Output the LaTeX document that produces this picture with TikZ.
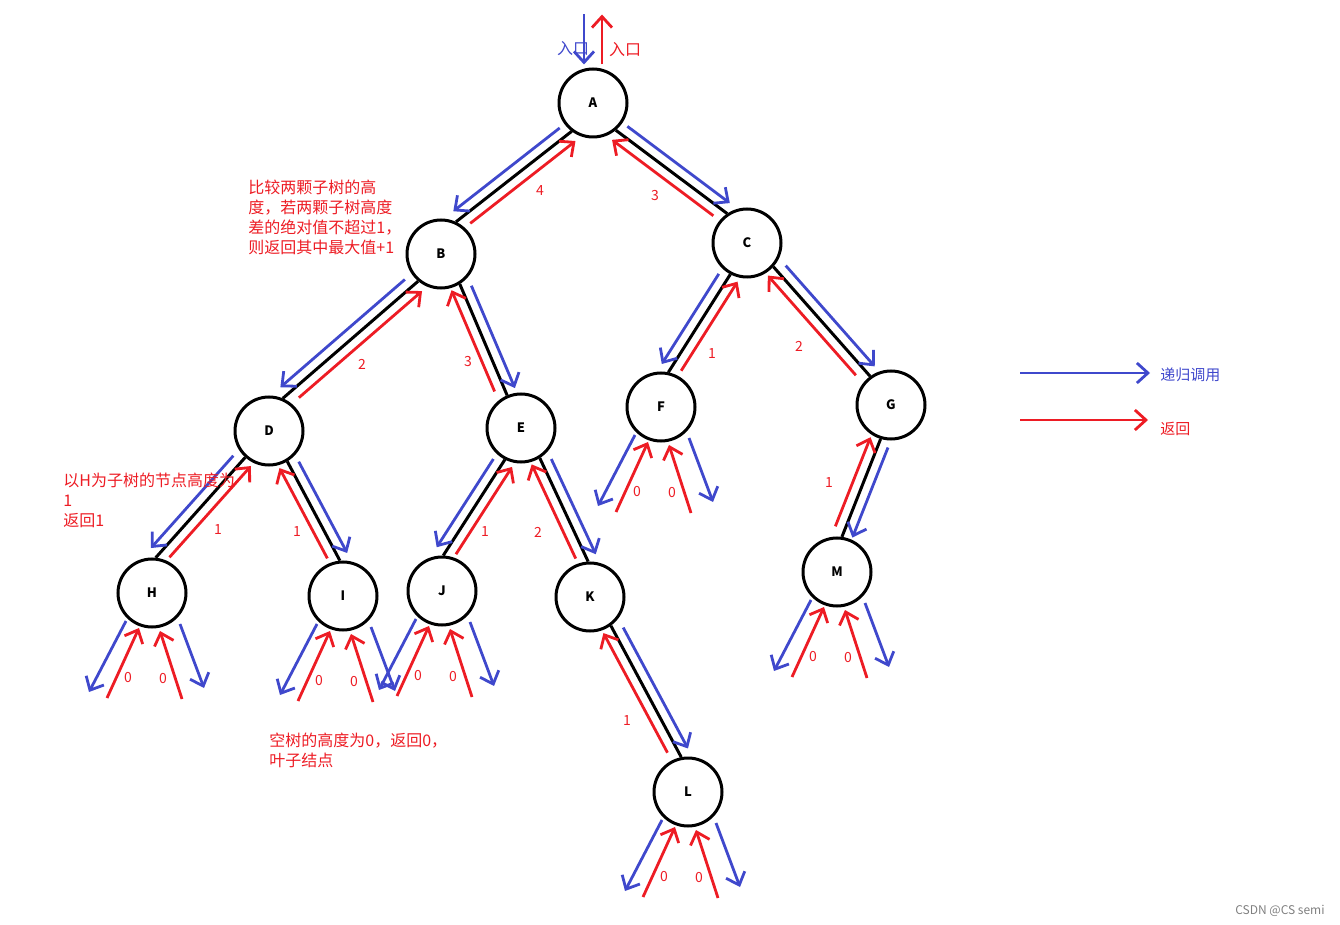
\documentclass[tikz,border=0pt]{standalone}
\usepackage{fontspec}
\usetikzlibrary{calc,arrows.meta}
\newfontfamily\cjk{Noto Sans CJK SC}
\definecolor{callblue}{RGB}{63,72,204}
\definecolor{retred}{RGB}{237,28,36}

\tikzset{
  tnode/.style={circle,draw,line width=1.5pt,minimum size=34pt,inner sep=0pt,font=\cjk\bfseries\fontsize{6.5}{7}\selectfont},
  tline/.style={line width=1.5pt},
  callarr/.style={callblue,line width=1.4pt,-{Straight Barb[length=5.5pt,width=10pt]}},
  retarr/.style={retred,line width=1.4pt,-{Straight Barb[length=5.5pt,width=10pt]}},
  num/.style={retred,font=\cjk\fontsize{7}{7}\selectfont,inner sep=0pt},
  note/.style={font=\cjk\fontsize{8}{10}\selectfont,align=left,inner sep=0pt,anchor=north west},
}

% parent, anchor, child, anchor, side of the blue arrow
\newcommand{\tedge}[5]{%
  \coordinate (#1#3p) at (#1.#2);
  \coordinate (#1#3c) at (#3.#4);
  \draw[tline] (#1#3p) -- (#1#3c);
  \draw[callarr] ($(#1#3p)!0.05!(#1#3c)!5pt!#5:(#1#3c)$) -- ($(#1#3p)!0.97!(#1#3c)!5pt!#5:(#1#3c)$);
  \draw[retarr] ($(#1#3c)!0.07!(#1#3p)!5pt!#5:(#1#3p)$) -- ($(#1#3c)!0.98!(#1#3p)!5pt!#5:(#1#3p)$);
}

% empty subtrees below a leaf
\newcommand{\nullkids}[1]{%
  \draw[callarr] ($(#1)+(-26,28)$) -- ($(#1)+(-63,99)$);
  \draw[retarr] ($(#1)+(-45,105)$) -- ($(#1)+(-13,35)$);
  \draw[retarr] ($(#1)+(30,106)$) -- ($(#1)+(8,38)$);
  \draw[callarr] ($(#1)+(28,31)$) -- ($(#1)+(52,95)$);
  \node[num] (#1z1) at ($(#1)+(-24,85)$) {0};
  \node[num] (#1z2) at ($(#1)+(11,86)$) {0};
}

\begin{document}
\begin{tikzpicture}[x=0.5pt,y=-0.5pt]
\useasboundingbox (0,0) rectangle (1340,925);

\node[tnode] (A) at (593,103) {A};
\node[tnode] (B) at (441,254) {B};
\node[tnode] (C) at (747,243) {C};
\node[tnode] (D) at (269,431) {D};
\node[tnode] (E) at (521,428) {E};
\node[tnode] (F) at (661,407) {F};
\node[tnode] (G) at (891,405) {G};
\node[tnode] (H) at (152,593) {H};
\node[tnode] (I) at (343,596) {I};
\node[tnode] (J) at (442,591) {J};
\node[tnode] (K) at (590,597) {K};
\node[tnode] (L) at (688,792) {L};
\node[tnode] (M) at (837,572) {M};

\tedge{A}{233}{B}{65}{-90}
\tedge{A}{310}{C}{124}{90}
\tedge{B}{230}{D}{67}{-90}
\tedge{B}{302}{E}{113}{90}
\tedge{C}{242}{F}{78}{-90}
\tedge{C}{318}{G}{126}{90}
\tedge{D}{228}{H}{84}{-90}
\tedge{D}{301}{I}{95}{90}
\tedge{E}{243}{J}{88}{-90}
\tedge{E}{302}{K}{93}{90}
\tedge{K}{306}{L}{101}{90}
\tedge{G}{253}{M}{82}{90}

\node[num] (nAB) at (540,191) {4};
\node[num] (nAC) at (655,196) {3};
\node[num] (nBD) at (362,364) {2};
\node[num] (nBE) at (468,362) {3};
\node[num] (nCF) at (712,354) {1};
\node[num] (nCG) at (799,346) {2};
\node[num] (nDH) at (218,530) {1};
\node[num] (nDI) at (297,532) {1};
\node[num] (nEJ) at (485,532) {1};
\node[num] (nEK) at (538,532) {2};
\node[num] (nKL) at (627,721) {1};
\node[num] (nGM) at (829,483) {1};

\nullkids{F}
\nullkids{H}
\nullkids{I}
\nullkids{J}
\nullkids{L}
\nullkids{M}

% entry
\draw[callarr] ($(A.north)+(-9,-53)$) -- ($(A.north)+(-9,-3)$);
\draw[retarr] ($(A.north)+(9,-3)$) -- ($(A.north)+(9,-53)$);
\node[num,callblue,font=\cjk\fontsize{8}{8}\selectfont] (inb) at (573,49) {入口};
\node[num,font=\cjk\fontsize{8}{8}\selectfont] (inr) at (625,50) {入口};

\node[note,retred] (cmp) at (248,180) {比较两颗子树的高\\度，若两颗子树高度\\差的绝对值不超过1，\\则返回其中最大值+1};
\node[note,retred] (hnote) at (63,473) {以H为子树的节点高度为\\1\\返回1};
\node[note,retred] (enote) at (269,733) {空树的高度为0，返回0，\\叶子结点};

% legend
\coordinate (lgc1) at (1020,373);
\coordinate (lgc2) at (1150,373);
\coordinate (lgr1) at (1020,420);
\coordinate (lgr2) at (1148,420);
\draw[callarr] (lgc1) -- (lgc2);
\draw[retarr] (lgr1) -- (lgr2);
\node[num,callblue,font=\cjk\fontsize{7.5}{7.5}\selectfont,anchor=west] (lgct) at (1160,375) {递归调用};
\node[num,font=\cjk\fontsize{7.5}{7.5}\selectfont,anchor=west] (lgrt) at (1160,429) {返回};

\node[font=\cjk\fontsize{6}{6}\selectfont,text=gray,anchor=east,inner sep=0pt] (wm) at (1325,911) {CSDN @CS semi};
\end{tikzpicture}
\end{document}
